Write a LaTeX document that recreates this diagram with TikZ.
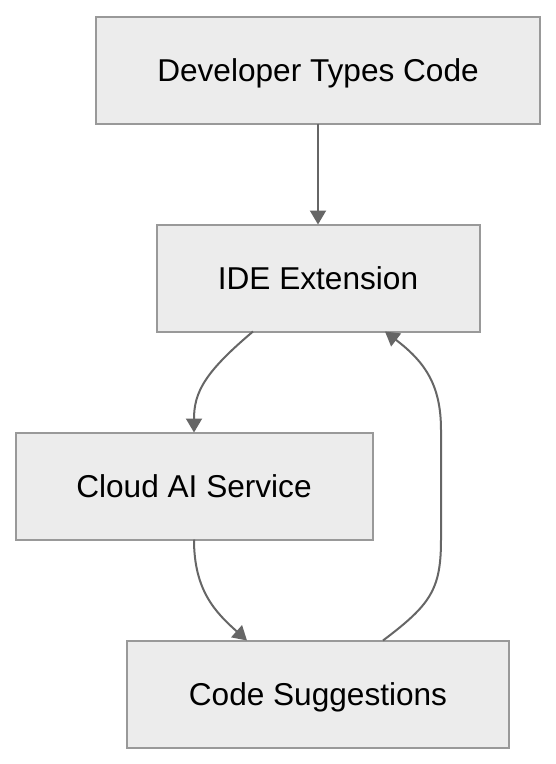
\documentclass[tikz,border=0pt]{standalone}
\usepackage{fontspec}
\setmainfont{Liberation Sans}
\usetikzlibrary{positioning,arrows.meta}
\definecolor{boxfill}{HTML}{ECECEC}
\definecolor{boxline}{HTML}{999999}
\definecolor{flowline}{HTML}{666666}

\begin{document}
\begin{tikzpicture}[x=1pt, y=-1pt,
    block/.style={draw=boxline, fill=boxfill, line width=2pt, rectangle, minimum height=107pt, outer sep=0pt, text depth=0pt, font=\fontsize{31.6}{38}\selectfont},
    flow/.style={draw=flowline, line width=2pt, -{Triangle[length=14pt,width=16pt]}}]
            \useasboundingbox (0,0) rectangle (556,764);
            \node (dev) [block, minimum width=444pt] at (318,70) {Developer Types Code};
            \node (ide) [block, minimum width=323pt, below=101pt of dev] {IDE Extension};
            \node (cloud) [block, minimum width=357pt, below=101pt of ide, xshift=-124pt] {Cloud AI Service};
            \node (sugg) [block, minimum width=382pt, below=101pt of cloud, xshift=124pt] {Code Suggestions};
            
            \draw[flow] (dev) -- (ide);
            \draw[flow] ([xshift=-65pt]ide.south) .. controls (205,372) and (194,392) .. (cloud.north);
            \draw[flow] (cloud.south) .. controls (194,590) and (215,612) .. ([xshift=-71pt]sugg.north);
            \draw[flow] ([xshift=65pt]sugg.north) .. controls (430,605) and (441,590) .. (441,540)
                -- (441,430) .. controls (441,385) and (425,362) .. ([xshift=67pt]ide.south);
        \end{tikzpicture}
\end{document}
